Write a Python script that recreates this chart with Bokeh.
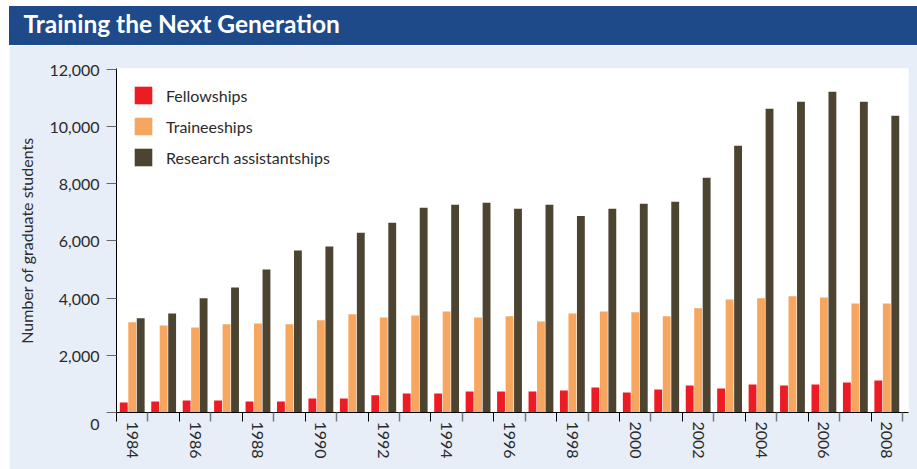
import math
from bokeh.plotting import figure
from bokeh.models import (ColumnDataSource, FixedTicker, Legend, LegendItem,
                          Range1d, NumeralTickFormatter, LinearAxis)
from bokeh.layouts import column
from bokeh.transform import dodge
from bokeh.embed import file_html
from bokeh.resources import INLINE

# ---------------- data ----------------
years = list(range(1984, 2009))
fellowships = [350, 385, 420, 420, 385, 385, 490, 490, 600, 665, 665, 735, 735,
               735, 770, 875, 700, 805, 945, 840, 980, 945, 980, 1050, 1120]
traineeships = [3150, 3040, 2970, 3080, 3110, 3080, 3220, 3430, 3320, 3390, 3530,
                3320, 3360, 3180, 3460, 3530, 3500, 3360, 3640, 3950, 3990, 4060,
                4020, 3810, 3810]
research = [3290, 3460, 3990, 4370, 5000, 5660, 5800, 6280, 6630, 7150, 7260,
            7330, 7120, 7260, 6870, 7120, 7290, 7360, 8200, 9320, 10610, 10860,
            11210, 10860, 10370]
labeled_years = list(range(1984, 2009, 2))
year_labels = [str(y) for y in labeled_years]
y_ticks = [0, 2000, 4000, 6000, 8000, 10000, 12000]
series_names = ["Fellowships", "Traineeships", "Research assistantships"]
title_text = "Training the Next Generation"
y_title = "Number of graduate students"

# ---------------- style ----------------
BLUE = "#1e4a8a"
BG = "#e7eef8"
RED = "#ed1c24"
ORANGE = "#f7a65f"
BROWN = "#4d4331"
TXT = "#2b2b2b"
FONT = "Lato"
LEFT, RIGHT = 107, 9

# ---------------- title bar ----------------
tb = figure(width=908, height=39, x_range=Range1d(0, 1), y_range=Range1d(0, 1),
            x_axis_location=None, y_axis_location=None, toolbar_location=None,
            output_backend="svg", min_border_left=LEFT, min_border_right=RIGHT,
            min_border_top=3, min_border_bottom=0, background_fill_color=None,
            border_fill_color=None, outline_line_color=None,
            styles={"background-color": BLUE})
tb.grid.visible = False
tb.title.text = title_text
tb.title.align = "left"
tb.title.offset = 14 - LEFT
tb.title.standoff = 0
tb.title.text_font = FONT
tb.title.text_font_style = "bold"
tb.title.text_font_size = "24.5px"
tb.title.text_color = "white"

# ---------------- main chart ----------------
src = ColumnDataSource(dict(year=years, fel=fellowships, tra=traineeships, res=research))

p = figure(width=908, height=424, x_range=Range1d(1983.5, 2008.69),
           y_range=Range1d(0, 12020), toolbar_location=None, output_backend="svg",
           min_border_left=LEFT, min_border_right=RIGHT, min_border_top=23,
           min_border_bottom=57, background_fill_color="white",
           border_fill_color=BG, outline_line_color=None)
p.grid.visible = False

r1 = p.vbar(x=dodge("year", -0.27), top="fel", width=0.25, source=src,
            fill_color=RED, line_color=None)
r2 = p.vbar(x=dodge("year", 0.0), top="tra", width=0.25, source=src,
            fill_color=ORANGE, line_color=None)
r3 = p.vbar(x=dodge("year", 0.27), top="res", width=0.25, source=src,
            fill_color=BROWN, line_color=None)

legend = Legend(items=[LegendItem(label=series_names[0], renderers=[r1]),
                       LegendItem(label=series_names[1], renderers=[r2]),
                       LegendItem(label=series_names[2], renderers=[r3])],
                location="top_left", margin=16, padding=0, spacing=9,
                glyph_width=22, glyph_height=22, label_standoff=12,
                label_text_font=FONT, label_text_font_size="16px",
                label_text_color=TXT, background_fill_alpha=0,
                border_line_color=None)
p.add_layout(legend)

# x axis 1: the axis line and the boundary ticks (alternating black / grey)
boundaries = [y - 0.5 for y in years] + [years[-1] + 0.5]
xa = p.xaxis[0]
xa.ticker = FixedTicker(ticks=boundaries[0::2], minor_ticks=boundaries[1::2])
xa.major_label_overrides = {b: "" for b in boundaries[0::2]}
xa.major_label_text_font_size = "0px"
xa.major_label_standoff = 0
xa.major_tick_out = 9
xa.major_tick_in = 0
xa.major_tick_line_color = "black"
xa.minor_tick_out = 9
xa.minor_tick_in = 0
xa.minor_tick_line_color = "#7a7a7a"
xa.minor_tick_line_width = 1.5
xa.axis_line_color = "black"

# x axis 2: the year labels at the group centres
xl = LinearAxis(ticker=FixedTicker(ticks=labeled_years, minor_ticks=[]))
xl.major_label_overrides = {y: l for y, l in zip(labeled_years, year_labels)}
xl.axis_line_color = None
xl.major_tick_line_color = None
xl.minor_tick_line_color = None
xl.major_tick_out = 0
xl.major_tick_in = 0
xl.minor_tick_out = 0
xl.major_label_orientation = "vertical"
xl.major_label_standoff = 0
xl.major_label_text_font = FONT
xl.major_label_text_font_size = "16px"
xl.major_label_text_color = TXT
p.add_layout(xl, "below")

# y axis
ya = p.yaxis[0]
ya.ticker = FixedTicker(ticks=y_ticks, minor_ticks=[])
ya.formatter = NumeralTickFormatter(format="0,0")
ya.major_label_overrides = {0: "\n0"}
ya.major_tick_out = 10
ya.major_tick_in = 0
ya.major_tick_line_color = "#666666"
ya.minor_tick_line_color = None
ya.axis_line_color = "black"
ya.major_label_standoff = 7
ya.major_label_text_font = FONT
ya.major_label_text_font_size = "16px"
ya.major_label_text_color = TXT
ya.axis_label = y_title
ya.axis_label_text_font = FONT
ya.axis_label_text_font_style = "normal"
ya.axis_label_text_font_size = "16px"
ya.axis_label_text_color = TXT
ya.axis_label_standoff = 10

layout = column(tb, p, spacing=0, margin=(6, 0, 0, 9))
open("out.html", "w").write(file_html(layout, INLINE))
